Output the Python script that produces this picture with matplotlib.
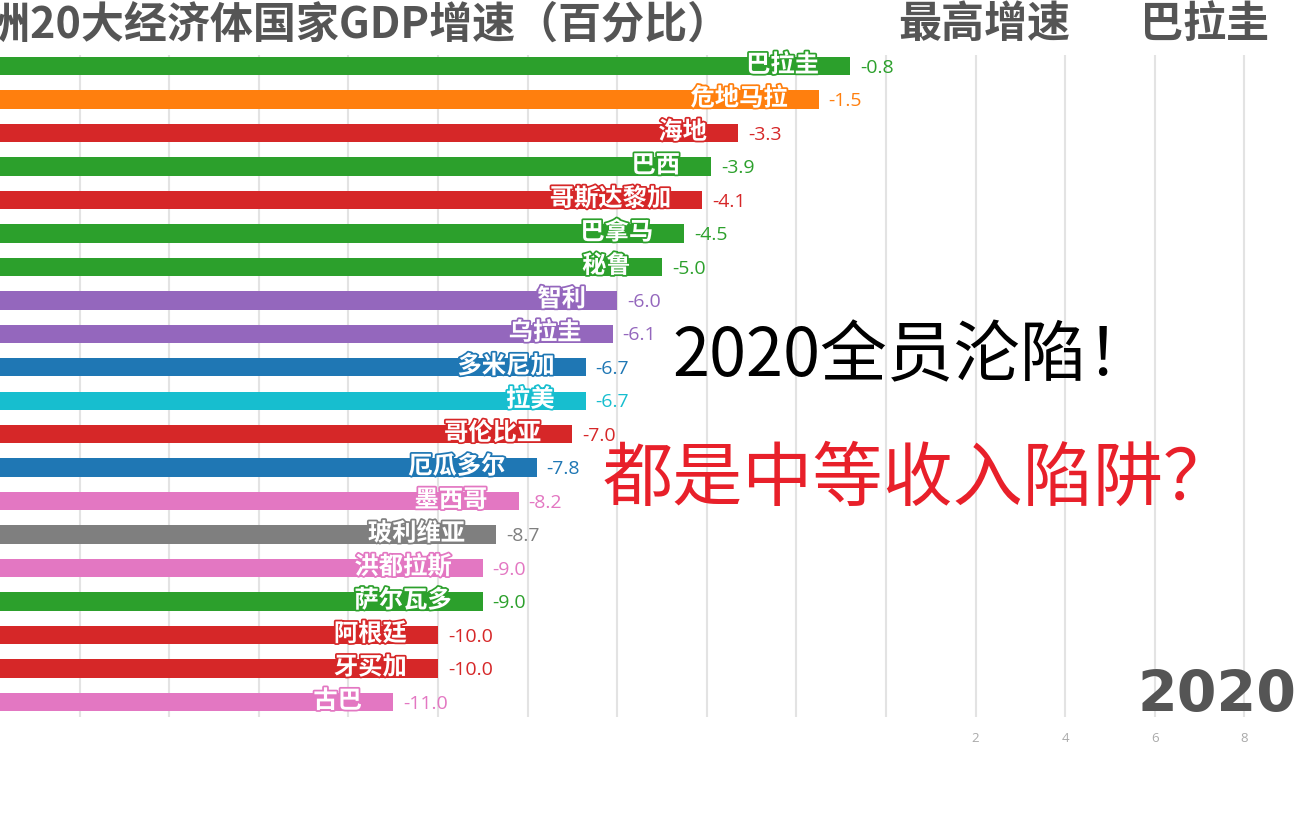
import numpy as np
import matplotlib
matplotlib.use("Agg")
import matplotlib.pyplot as plt
import matplotlib.patheffects as pe

plt.rcParams['font.family'] = ['Noto Sans CJK SC', 'DejaVu Sans']

# data, top to bottom
countries = ['巴拉圭', '危地马拉', '海地', '巴西', '哥斯达黎加', '巴拿马', '秘鲁', '智利',
             '乌拉圭', '多米尼加', '拉美', '哥伦比亚', '厄瓜多尔', '墨西哥', '玻利维亚',
             '洪都拉斯', '萨尔瓦多', '阿根廷', '牙买加', '古巴']
growth = [-0.8, -1.5, -3.3, -3.9, -4.1, -4.5, -5.0, -6.0, -6.1, -6.7,
          -6.7, -7.0, -7.8, -8.2, -8.7, -9.0, -9.0, -10.0, -10.0, -11.0]
bar_colours = ['#2ca02c', '#ff7f0e', '#d62728', '#2ca02c', '#d62728', '#2ca02c', '#2ca02c',
               '#9467bd', '#9467bd', '#1f77b4', '#17becf', '#d62728', '#1f77b4', '#e377c2',
               '#7f7f7f', '#e377c2', '#2ca02c', '#d62728', '#d62728', '#e377c2']
tick_values = list(range(-18, 10, 2))
year = '2020'
top_country = '巴拉圭'

W, H = 1307, 817
fig = plt.figure(figsize=(W / 100, H / 100), dpi=100)
ax = fig.add_axes([0, 1 - 717 / H, 1, (717 - 55) / H])

base = -20
y_pos = np.arange(len(countries))
vals = np.array(growth)
ax.barh(y_pos, vals - base, left=base, height=0.55, color=bar_colours, zorder=2)

ax.set_xlim(-886 / 44.8, (W - 886) / 44.8)
ax.set_ylim(19.45, -0.33)

for y, name, v, c in zip(y_pos, countries, vals, bar_colours):
    ax.text(v - 0.7, y - 0.03, name, ha='right', va='center', color='white',
            fontsize=17.5, fontweight='bold', zorder=3,
            path_effects=[pe.withStroke(linewidth=2.5, foreground=c)])
    ax.text(v + 0.22, y + 0.05, f'{v:.1f}', ha='left', va='center', color=c,
            fontsize=14, family=['Open Sans', 'DejaVu Sans'], zorder=3)

ax.set_xticks(tick_values)
ax.set_xticklabels([str(t) if t > 0 else '' for t in tick_values],
                   fontsize=9.5, color='#aaaaaa', family=['Open Sans', 'DejaVu Sans'])
ax.tick_params(axis='x', length=0, pad=11)
ax.set_yticks([])
ax.grid(axis='x', color='#e3e3e3', linewidth=1.5, zorder=0)
ax.set_axisbelow(True)
for s in ax.spines.values():
    s.set_visible(False)

# titles
grey = '#555555'
fig.text(731 / W, 1 - 24 / H, '美洲20大经济体国家GDP增速（百分比）', ha='right', va='center',
         fontsize=31, fontweight='bold', color=grey)
fig.text(898 / W, 1 - 24 / H, '最高增速', ha='left', va='center',
         fontsize=31, fontweight='bold', color=grey)
fig.text(1140 / W, 1 - 24 / H, top_country, ha='left', va='center',
         fontsize=31, fontweight='bold', color=grey)

# annotations
fig.text(672 / W, 1 - 358 / H, '2020全员沦陷！', ha='left', va='center',
         fontsize=48, color='black')
fig.text(603 / W, 1 - 480 / H, '都是中等收入陷阱？', ha='left', va='center',
         fontsize=50.5, color='#e8202a')
fig.text(1296 / W, 1 - 696 / H, year, ha='right', va='center',
         fontsize=41, fontweight='bold', color=grey, family=['DejaVu Sans'])

fig.savefig('out.png', dpi=100, facecolor='white')
